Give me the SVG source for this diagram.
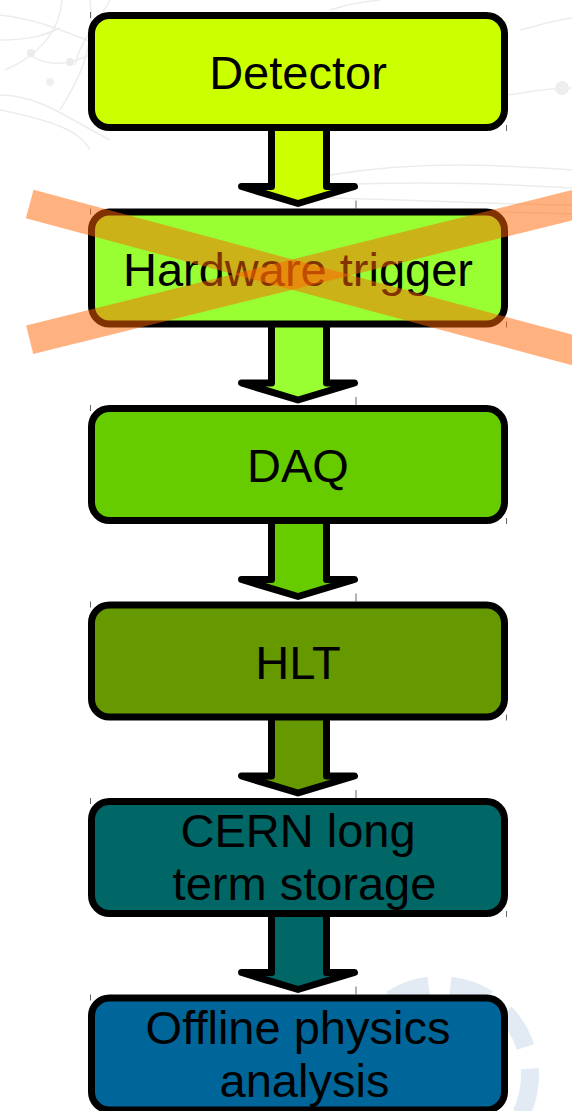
<svg xmlns="http://www.w3.org/2000/svg" width="572" height="1111" viewBox="0 0 572 1111">
<style>
.bg{fill:none;stroke:#ececec;stroke-width:1.5}
.box{stroke:#000;stroke-width:7}
.arr{stroke:#000;stroke-width:7;stroke-linejoin:round}
.lbl{font-family:"Liberation Sans",Arial,sans-serif;font-size:47px;fill:#000;text-anchor:middle}
.tick{stroke:#666;stroke-width:1}
.x{stroke:#FF6600;stroke-opacity:0.5;stroke-width:29.5;stroke-linecap:butt;fill:none}
</style>
<rect width="572" height="1111" fill="#fff"/>
<g id="background">
<path class="bg" d="M0,15 C40,20 60,30 100,45 M0,40 C30,40 45,35 60,28 M5,70 C40,55 60,30 62,0 M0,95 C40,95 70,120 110,140 M0,110 C50,120 80,130 90,150 M30,55 C60,75 90,55 120,40 M90,0 C95,40 85,70 60,110 M110,0 C100,20 80,40 75,65"/>
<circle cx="31" cy="53" r="4" fill="#ebebeb"/>
<circle cx="70" cy="62" r="4" fill="#ebebeb"/>
<circle cx="50" cy="82" r="4" fill="#efefef"/>
<path class="bg" d="M330,175 C420,160 500,165 572,170 M330,185 C430,180 520,185 572,188 M330,198 C420,200 510,205 572,205 M380,215 C450,210 520,212 572,214 M508,95 C530,92 545,88 572,88 M330,10 C345,5 360,2 380,0 M520,30 C540,25 555,20 572,18"/>
<circle cx="562" cy="88" r="7" fill="#eeeeee"/>
<circle cx="440" cy="1075" r="90" fill="none" stroke="#e2ebf3" stroke-width="18" stroke-dasharray="40 22"/>
</g>
<g id="ticks">
<path class="tick" d="M90.5,12V18 M506.5,125V131 M90.5,208.5V214.5 M506.5,321.5V327.5 M356,200.5V208.5 M90.5,405V411 M506.5,518V524 M356,397V405 M90.5,601.5V607.5 M506.5,714.5V720.5 M356,593.5V601.5 M90.5,798V804 M506.5,911V917 M356,790V798 M90.5,994.5V1000.5 M356,986.5V994.5"/>
</g>
<g id="connectors">
<path class="arr" fill="#CCFF00" d="M271.5,123V186.5H241.5L298,203.5L354.5,186.5H326.5V123Z"/>
<path class="arr" fill="#99FF33" d="M271.5,319.5V383H241.5L298,400L354.5,383H326.5V319.5Z"/>
<path class="arr" fill="#66CC00" d="M271.5,516V579.5H241.5L298,596.5L354.5,579.5H326.5V516Z"/>
<path class="arr" fill="#669900" d="M271.5,712.5V776H241.5L298,793L354.5,776H326.5V712.5Z"/>
<path class="arr" fill="#006666" d="M271.5,909V972.5H241.5L298,989.5L354.5,972.5H326.5V909Z"/>
</g>
<g id="detector">
<rect class="box" x="91.5" y="15.5" width="413" height="112" rx="18" fill="#CCFF00"/>
<text class="lbl" x="298" y="89">Detector</text>
</g>
<g id="hardware-trigger">
<rect class="box" x="91.5" y="212" width="413" height="112" rx="18" fill="#99FF33"/>
<text class="lbl" x="298" y="285.5">Hardware trigger</text>
</g>
<g id="daq">
<rect class="box" x="91.5" y="408.5" width="413" height="112" rx="18" fill="#66CC00"/>
<text class="lbl" x="298" y="482">DAQ</text>
</g>
<g id="hlt">
<rect class="box" x="91.5" y="605" width="413" height="112" rx="18" fill="#669900"/>
<text class="lbl" x="298" y="678.5">HLT</text>
</g>
<g id="cern-storage">
<rect class="box" x="91.5" y="801.5" width="413" height="112" rx="18" fill="#006666"/>
<text class="lbl" x="298" y="847">CERN long</text>
<text class="lbl" x="304.5" y="900">term storage</text>
</g>
<g id="offline-analysis">
<rect class="box" x="91.5" y="998" width="413" height="112" rx="18" fill="#006699"/>
<text class="lbl" x="298" y="1043.5">Offline physics</text>
<text class="lbl" x="304.5" y="1096.5">analysis</text>
</g>
<g id="cross">
<line class="x" x1="29.7" y1="204" x2="600" y2="357.4"/>
<line class="x" x1="29.7" y1="339.7" x2="600" y2="198.3"/>
</g>
</svg>
